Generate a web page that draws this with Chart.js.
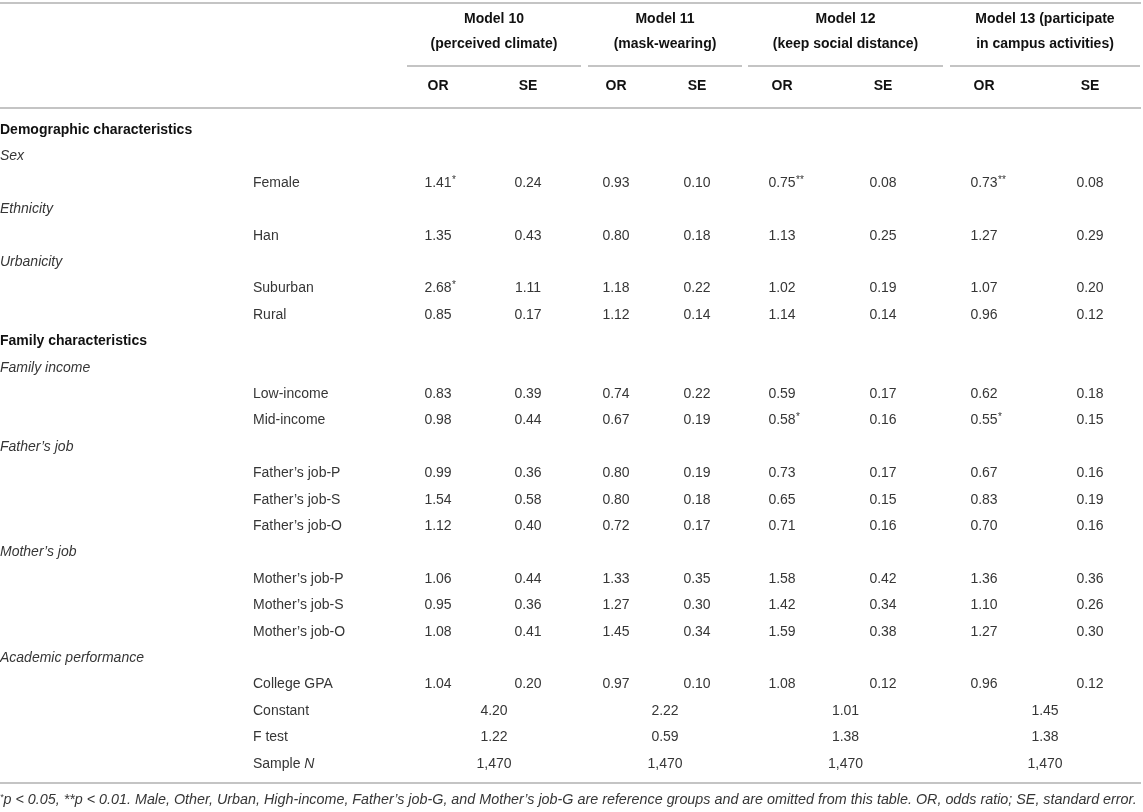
<!DOCTYPE html>
<html>
<head>
<meta charset="utf-8">
<script src="https://cdn.jsdelivr.net/npm/chart.js@4/dist/chart.umd.min.js"></script>
<style>
  html, body { margin: 0; padding: 0; background: #fff; }
  #tbl { display: block; }
</style>
</head>
<body>
<canvas id="tbl" width="1143" height="812"></canvas>
<script>
// rows of the table, top to bottom
const rowLabels = ['Demographic characteristics', 'Sex', 'Female', 'Ethnicity', 'Han', 'Urbanicity', 'Suburban', 'Rural',
    'Family characteristics', 'Family income', 'Low-income', 'Mid-income', "Father’s job", "Father’s job-P", "Father’s job-S",
    "Father’s job-O", "Mother’s job", "Mother’s job-P", "Mother’s job-S", "Mother’s job-O", 'Academic performance',
    'College GPA', 'Constant', 'F test', 'Sample N'];
const rowKinds = ['section', 'group', 'item', 'group', 'item', 'group', 'item', 'item',
    'section', 'group', 'item', 'item', 'group', 'item', 'item',
    'item', 'group', 'item', 'item', 'item', 'group',
    'item', 'stat', 'stat', 'stat'];

const predictors = ['Female', 'Han', 'Suburban', 'Rural', 'Low-income', 'Mid-income', "Father’s job-P", "Father’s job-S",
    "Father’s job-O", "Mother’s job-P", "Mother’s job-S", "Mother’s job-O", 'College GPA'];

const modelTitles = [['Model 10', '(perceived climate)'], ['Model 11', '(mask-wearing)'],
    ['Model 12', '(keep social distance)'], ['Model 13 (participate', 'in campus activities)']];

const m10OR = [1.41, 1.35, 2.68, 0.85, 0.83, 0.98, 0.99, 1.54, 1.12, 1.06, 0.95, 1.08, 1.04];
const m10Sig = ['*', '', '*', '', '', '', '', '', '', '', '', '', ''];
const m10SE = [0.24, 0.43, 1.11, 0.17, 0.39, 0.44, 0.36, 0.58, 0.40, 0.44, 0.36, 0.41, 0.20];

const m11OR = [0.93, 0.80, 1.18, 1.12, 0.74, 0.67, 0.80, 0.80, 0.72, 1.33, 1.27, 1.45, 0.97];
const m11Sig = ['', '', '', '', '', '', '', '', '', '', '', '', ''];
const m11SE = [0.10, 0.18, 0.22, 0.14, 0.22, 0.19, 0.19, 0.18, 0.17, 0.35, 0.30, 0.34, 0.10];

const m12OR = [0.75, 1.13, 1.02, 1.14, 0.59, 0.58, 0.73, 0.65, 0.71, 1.58, 1.42, 1.59, 1.08];
const m12Sig = ['**', '', '', '', '', '*', '', '', '', '', '', '', ''];
const m12SE = [0.08, 0.25, 0.19, 0.14, 0.17, 0.16, 0.17, 0.15, 0.16, 0.42, 0.34, 0.38, 0.12];

const m13OR = [0.73, 1.27, 1.07, 0.96, 0.62, 0.55, 0.67, 0.83, 0.70, 1.36, 1.10, 1.27, 0.96];
const m13Sig = ['**', '', '', '', '', '*', '', '', '', '', '', '', ''];
const m13SE = [0.08, 0.29, 0.20, 0.12, 0.18, 0.15, 0.16, 0.19, 0.16, 0.36, 0.26, 0.30, 0.12];

const constants = [4.20, 2.22, 1.01, 1.45];
const fTests = [1.22, 0.59, 1.38, 1.38];
const sampleN = [1470, 1470, 1470, 1470];

const footnote = 'p < 0.05, **p < 0.01. Male, Other, Urban, High-income, Father’s job-G, and Mother’s job-G are reference groups and are omitted from this table. OR, odds ratio; SE, standard error.';

// layout (px)
const colOR = [438, 616, 782, 984];
const colSE = [528, 697, 883, 1090];
const spans = [[407, 581], [588, 742], [748, 943], [950, 1140]];
const itemX = 253;
const FONT = '"Liberation Sans", Arial, Helvetica, sans-serif';
const TXT = '#363636';
const BOLD = '#111';
const RULE = '#c4c4c4';

const orData = [m10OR, m11OR, m12OR, m13OR];
const sigData = [m10Sig, m11Sig, m12Sig, m13Sig];
const seData = [m10SE, m11SE, m12SE, m13SE];

const datasets = [];
orData.forEach((vals, m) => {
    datasets.push({ label: 'OR ' + m, data: vals.map((v, i) => ({ x: colOR[m], y: predictors[i], t: v.toFixed(2), sig: sigData[m][i] })) });
    datasets.push({ label: 'SE ' + m, data: seData[m].map((v, i) => ({ x: colSE[m], y: predictors[i], t: v.toFixed(2), sig: '' })) });
    const mid = (spans[m][0] + spans[m][1]) / 2;
    datasets.push({ label: 'fit ' + m, data: [
        { x: mid, y: 'Constant', t: constants[m].toFixed(2), sig: '' },
        { x: mid, y: 'F test', t: fTests[m].toFixed(2), sig: '' },
        { x: mid, y: 'Sample N', t: sampleN[m].toLocaleString('en-US'), sig: '' },
    ] });
});
datasets.forEach(d => { d.pointRadius = 0; d.pointHoverRadius = 0; });

function hline(ctx, x1, x2, y) {
    ctx.beginPath();
    ctx.moveTo(x1, y);
    ctx.lineTo(x2, y);
    ctx.stroke();
}

const tablePlugin = {
    id: 'tablePlugin',
    afterDatasetsDraw(chart) {
        const ctx = chart.ctx;
        const ys = chart.scales.y;
        ctx.save();
        ctx.textBaseline = 'middle';

        // rules
        ctx.strokeStyle = RULE;
        ctx.lineWidth = 2;
        hline(ctx, 0, 1141, 3);
        hline(ctx, 0, 1141, 108);
        hline(ctx, 0, 1141, 783);
        spans.forEach(s => hline(ctx, s[0], s[1], 66));

        // column headers
        ctx.font = 'bold 14px ' + FONT;
        ctx.fillStyle = BOLD;
        ctx.textAlign = 'center';
        modelTitles.forEach((t, m) => {
            const mid = (spans[m][0] + spans[m][1]) / 2;
            ctx.fillText(t[0], mid, 19);
            ctx.fillText(t[1], mid, 44);
            ctx.fillText('OR', colOR[m], 86);
            ctx.fillText('SE', colSE[m], 86);
        });

        // row labels
        ctx.textAlign = 'left';
        rowLabels.forEach((lab, i) => {
            const y = ys.getPixelForValue(i);
            const kind = rowKinds[i];
            if (kind === 'section') {
                ctx.font = 'bold 14px ' + FONT;
                ctx.fillStyle = BOLD;
                ctx.fillText(lab, 0, y);
            } else if (kind === 'group') {
                ctx.font = 'italic 14px ' + FONT;
                ctx.fillStyle = TXT;
                ctx.fillText(lab, 0, y);
            } else if (lab === 'Sample N') {
                ctx.font = '14px ' + FONT;
                ctx.fillStyle = TXT;
                ctx.fillText('Sample ', itemX, y);
                const w = ctx.measureText('Sample ').width;
                ctx.font = 'italic 14px ' + FONT;
                ctx.fillText('N', itemX + w, y);
            } else {
                ctx.font = '14px ' + FONT;
                ctx.fillStyle = TXT;
                ctx.fillText(lab, itemX, y);
            }
        });

        // cell values, positioned by the chart's own elements
        ctx.fillStyle = TXT;
        chart.data.datasets.forEach((ds, di) => {
            const meta = chart.getDatasetMeta(di);
            meta.data.forEach((el, j) => {
                const p = ds.data[j];
                ctx.font = '14px ' + FONT;
                ctx.textAlign = 'center';
                ctx.fillText(p.t, el.x, el.y);
                if (p.sig) {
                    const w = ctx.measureText(p.t).width;
                    ctx.font = '10px ' + FONT;
                    ctx.textAlign = 'left';
                    ctx.fillText(p.sig, el.x + w / 2 + 0.5, el.y - 3);
                }
            });
        });

        // footnote, leading star raised
        ctx.textAlign = 'left';
        ctx.fillStyle = TXT;
        ctx.font = 'italic 9px ' + FONT;
        ctx.fillText('*', 0, 797);
        const sw = ctx.measureText('*').width;
        let fs = 12;
        ctx.font = 'italic ' + fs + 'px ' + FONT;
        fs = fs * (1138 - sw) / ctx.measureText(footnote).width;
        ctx.font = 'italic ' + fs.toFixed(2) + 'px ' + FONT;
        ctx.fillText(footnote, sw, 800);
        ctx.restore();
    }
};

new Chart(document.getElementById('tbl'), {
    type: 'scatter',
    data: { datasets },
    options: {
        responsive: false,
        animation: false,
        events: [],
        layout: { padding: { top: 117, bottom: 35, left: 0, right: 0 } },
        plugins: { legend: { display: false }, tooltip: { enabled: false } },
        scales: {
            x: { type: 'linear', min: 0, max: 1143, display: false },
            y: { type: 'category', labels: rowLabels, offset: true, display: false },
        },
    },
    plugins: [tablePlugin],
});
</script>
</body>
</html>
